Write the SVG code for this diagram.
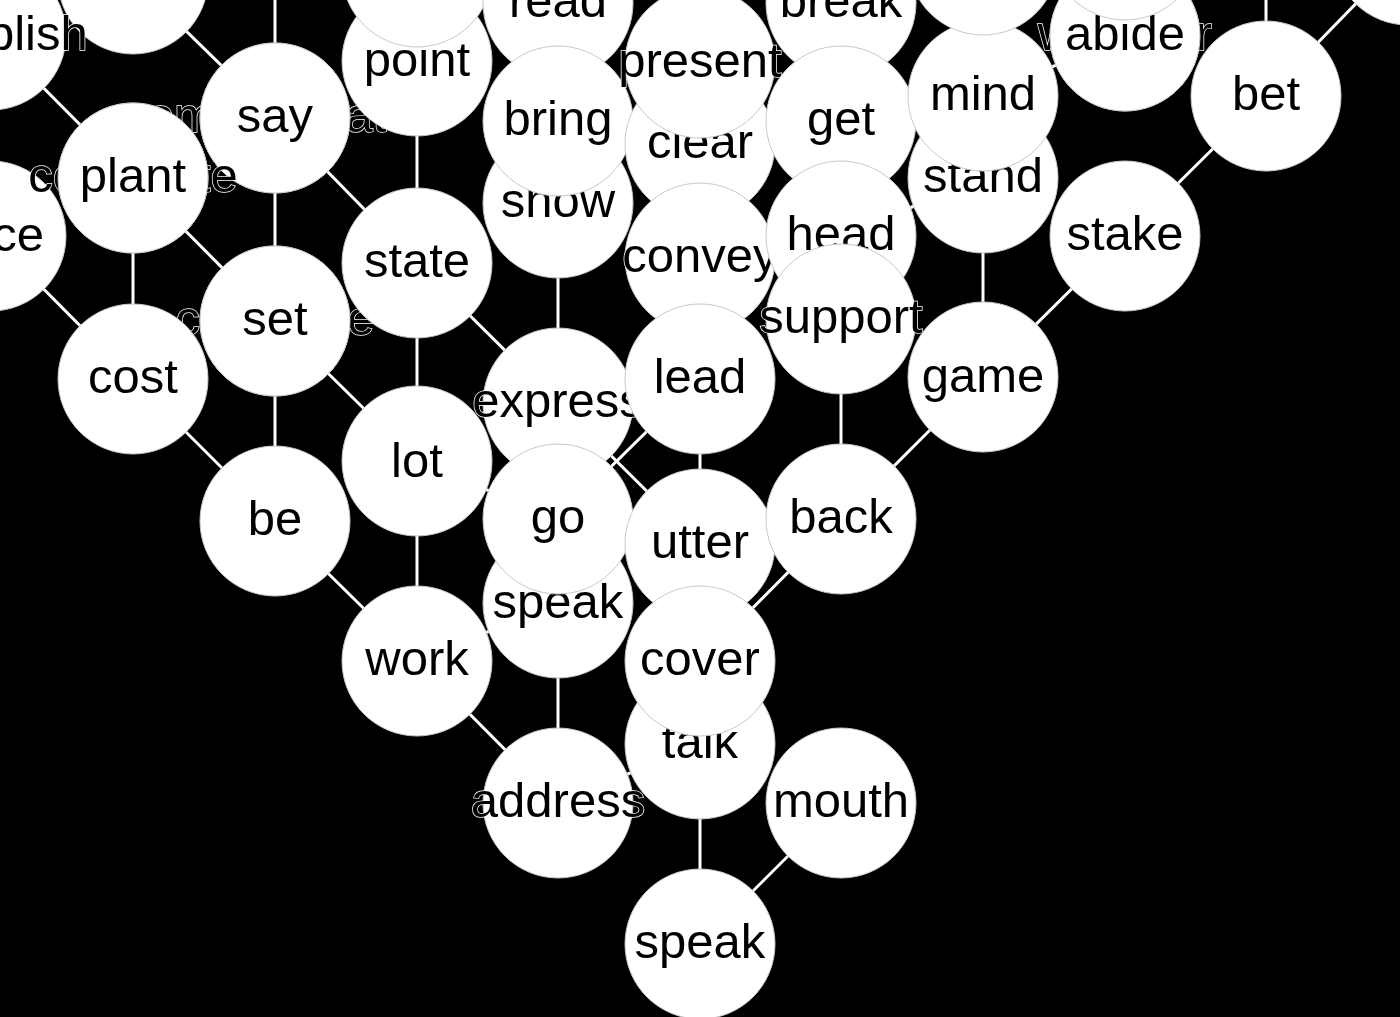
<svg xmlns="http://www.w3.org/2000/svg" width="1400" height="1017" viewBox="0 0 1400 1017">
<style>
.bg{fill:#000}
.e{stroke:#fff;stroke-width:3;fill:none}
.n circle{fill:#fff;stroke:#c8c8c8;stroke-width:1}
.n text{font-family:"Liberation Sans",Arial,Helvetica,sans-serif;font-size:49px;fill:#000;stroke:#fff;stroke-width:1.4;paint-order:stroke;text-anchor:middle}
</style>
<rect class="bg" x="0" y="0" width="1400" height="1017"/>
<g id="connectors">
<line class="e" x1="133" y1="-21" x2="275" y2="118"/>
<line class="e" x1="275" y1="-81" x2="275" y2="118"/>
<line class="e" x1="-9" y1="35" x2="133" y2="178"/>
<line class="e" x1="275" y1="118" x2="417" y2="263"/>
<line class="e" x1="275" y1="118" x2="275" y2="321"/>
<line class="e" x1="133" y1="178" x2="275" y2="321"/>
<line class="e" x1="133" y1="178" x2="133" y2="379"/>
<line class="e" x1="-9" y1="236" x2="133" y2="379"/>
<line class="e" x1="275" y1="321" x2="275" y2="521"/>
<line class="e" x1="275" y1="321" x2="417" y2="461"/>
<line class="e" x1="133" y1="379" x2="275" y2="521"/>
<line class="e" x1="417" y1="263" x2="417" y2="461"/>
<line class="e" x1="417" y1="263" x2="558" y2="403"/>
<line class="e" x1="417" y1="61" x2="417" y2="263"/>
<line class="e" x1="558" y1="203" x2="558" y2="403"/>
<line class="e" x1="417" y1="461" x2="417" y2="661"/>
<line class="e" x1="417" y1="461" x2="558" y2="519"/>
<line class="e" x1="275" y1="521" x2="417" y2="661"/>
<line class="e" x1="417" y1="661" x2="558" y2="803"/>
<line class="e" x1="417" y1="661" x2="558" y2="603"/>
<line class="e" x1="558" y1="603" x2="558" y2="803"/>
<line class="e" x1="558" y1="803" x2="700" y2="744"/>
<line class="e" x1="700" y1="744" x2="700" y2="944"/>
<line class="e" x1="841" y1="803" x2="700" y2="944"/>
<line class="e" x1="841" y1="519" x2="700" y2="661"/>
<line class="e" x1="700" y1="379" x2="700" y2="544"/>
<line class="e" x1="558" y1="519" x2="700" y2="379"/>
<line class="e" x1="558" y1="403" x2="700" y2="544"/>
<line class="e" x1="841" y1="319" x2="841" y2="519"/>
<line class="e" x1="983" y1="377" x2="841" y2="519"/>
<line class="e" x1="1125" y1="236" x2="983" y2="377"/>
<line class="e" x1="983" y1="178" x2="983" y2="377"/>
<line class="e" x1="1266" y1="96" x2="1125" y2="236"/>
<line class="e" x1="1266" y1="96" x2="1408" y2="-50"/>
<line class="e" x1="1266" y1="-106" x2="1266" y2="96"/>
<line class="e" x1="983" y1="96" x2="1125" y2="36"/>
<line class="e" x1="841" y1="236" x2="983" y2="178"/>
</g>
<g id="node-top1" class="n"><circle cx="133" cy="-21" r="75"/></g>
<g id="node-establish" class="n"><circle cx="-9" cy="35" r="75"/><text x="-9" y="50">establish</text></g>
<g id="node-price" class="n"><circle cx="-9" cy="236" r="75"/><text x="-9" y="251">price</text></g>
<g id="node-communicate" class="n"><circle cx="275" cy="118" r="75"/><text x="268" y="132">communicate</text></g>
<g id="node-point" class="n"><circle cx="417" cy="61" r="75"/><text x="417" y="76">point</text></g>
<g id="node-top2" class="n"><circle cx="417" cy="-28" r="75"/></g>
<g id="node-show" class="n"><circle cx="558" cy="203" r="75"/><text x="558" y="217">show</text></g>
<g id="node-read" class="n"><circle cx="558" cy="3" r="75"/><text x="558" y="17">read</text></g>
<g id="node-bring" class="n"><circle cx="558" cy="121" r="75"/><text x="558" y="135">bring</text></g>
<g id="node-clear" class="n"><circle cx="700" cy="144" r="75"/><text x="700" y="158">clear</text></g>
<g id="node-present" class="n"><circle cx="700" cy="63" r="75"/><text x="700" y="77">present</text></g>
<g id="node-break" class="n"><circle cx="841" cy="3" r="75"/><text x="841" y="17">break</text></g>
<g id="node-get" class="n"><circle cx="841" cy="121" r="75"/><text x="841" y="135">get</text></g>
<g id="node-convey" class="n"><circle cx="700" cy="258" r="75"/><text x="700" y="272">convey</text></g>
<g id="node-head" class="n"><circle cx="841" cy="236" r="75"/><text x="841" y="250">head</text></g>
<g id="node-support" class="n"><circle cx="841" cy="319" r="75"/><text x="841" y="333">support</text></g>
<g id="node-say" class="n"><circle cx="275" cy="118" r="75"/><text x="275" y="132">say</text></g>
<g id="node-constitute" class="n"><circle cx="133" cy="178" r="75"/><text x="133" y="192">constitute</text></g>
<g id="node-plant" class="n"><circle cx="133" cy="178" r="75"/><text x="133" y="192">plant</text></g>
<g id="node-compose" class="n"><circle cx="275" cy="321" r="75"/><text x="275" y="335">compose</text></g>
<g id="node-set" class="n"><circle cx="275" cy="321" r="75"/><text x="275" y="335">set</text></g>
<g id="node-cost" class="n"><circle cx="133" cy="379" r="75"/><text x="133" y="393">cost</text></g>
<g id="node-state" class="n"><circle cx="417" cy="263" r="75"/><text x="417" y="277">state</text></g>
<g id="node-express" class="n"><circle cx="558" cy="403" r="75"/><text x="558" y="417">express</text></g>
<g id="node-lead" class="n"><circle cx="700" cy="379" r="75"/><text x="700" y="393">lead</text></g>
<g id="node-lot" class="n"><circle cx="417" cy="461" r="75"/><text x="417" y="477">lot</text></g>
<g id="node-be" class="n"><circle cx="275" cy="521" r="75"/><text x="275" y="535">be</text></g>
<g id="node-speak2" class="n"><circle cx="558" cy="603" r="75"/><text x="558" y="618">speak</text></g>
<g id="node-go" class="n"><circle cx="558" cy="519" r="75"/><text x="558" y="533">go</text></g>
<g id="node-utter" class="n"><circle cx="700" cy="544" r="75"/><text x="700" y="558">utter</text></g>
<g id="node-back" class="n"><circle cx="841" cy="519" r="75"/><text x="841" y="533">back</text></g>
<g id="node-game" class="n"><circle cx="983" cy="377" r="75"/><text x="983" y="392">game</text></g>
<g id="node-stand" class="n"><circle cx="983" cy="178" r="75"/><text x="983" y="192">stand</text></g>
<g id="node-mind" class="n"><circle cx="983" cy="96" r="75"/><text x="983" y="110">mind</text></g>
<g id="node-top3" class="n"><circle cx="983" cy="-40" r="75"/></g>
<g id="node-weather" class="n"><circle cx="1125" cy="36" r="75"/><text x="1125" y="50">weather</text></g>
<g id="node-abide" class="n"><circle cx="1125" cy="36" r="75"/><text x="1125" y="50">abide</text></g>
<g id="node-top4" class="n"><circle cx="1125" cy="-55" r="75"/></g>
<g id="node-stake" class="n"><circle cx="1125" cy="236" r="75"/><text x="1125" y="250">stake</text></g>
<g id="node-bet" class="n"><circle cx="1266" cy="96" r="75"/><text x="1266" y="110">bet</text></g>
<g id="node-topright" class="n"><circle cx="1408" cy="-50" r="75"/></g>
<g id="node-talk" class="n"><circle cx="700" cy="744" r="75"/><text x="700" y="758">talk</text></g>
<g id="node-cover" class="n"><circle cx="700" cy="661" r="75"/><text x="700" y="675">cover</text></g>
<g id="node-work" class="n"><circle cx="417" cy="661" r="75"/><text x="417" y="675">work</text></g>
<g id="node-address" class="n"><circle cx="558" cy="803" r="75"/><text x="558" y="817">address</text></g>
<g id="node-mouth" class="n"><circle cx="841" cy="803" r="75"/><text x="841" y="817">mouth</text></g>
<g id="node-speak" class="n"><circle cx="700" cy="944" r="75"/><text x="700" y="958">speak</text></g>
</svg>
